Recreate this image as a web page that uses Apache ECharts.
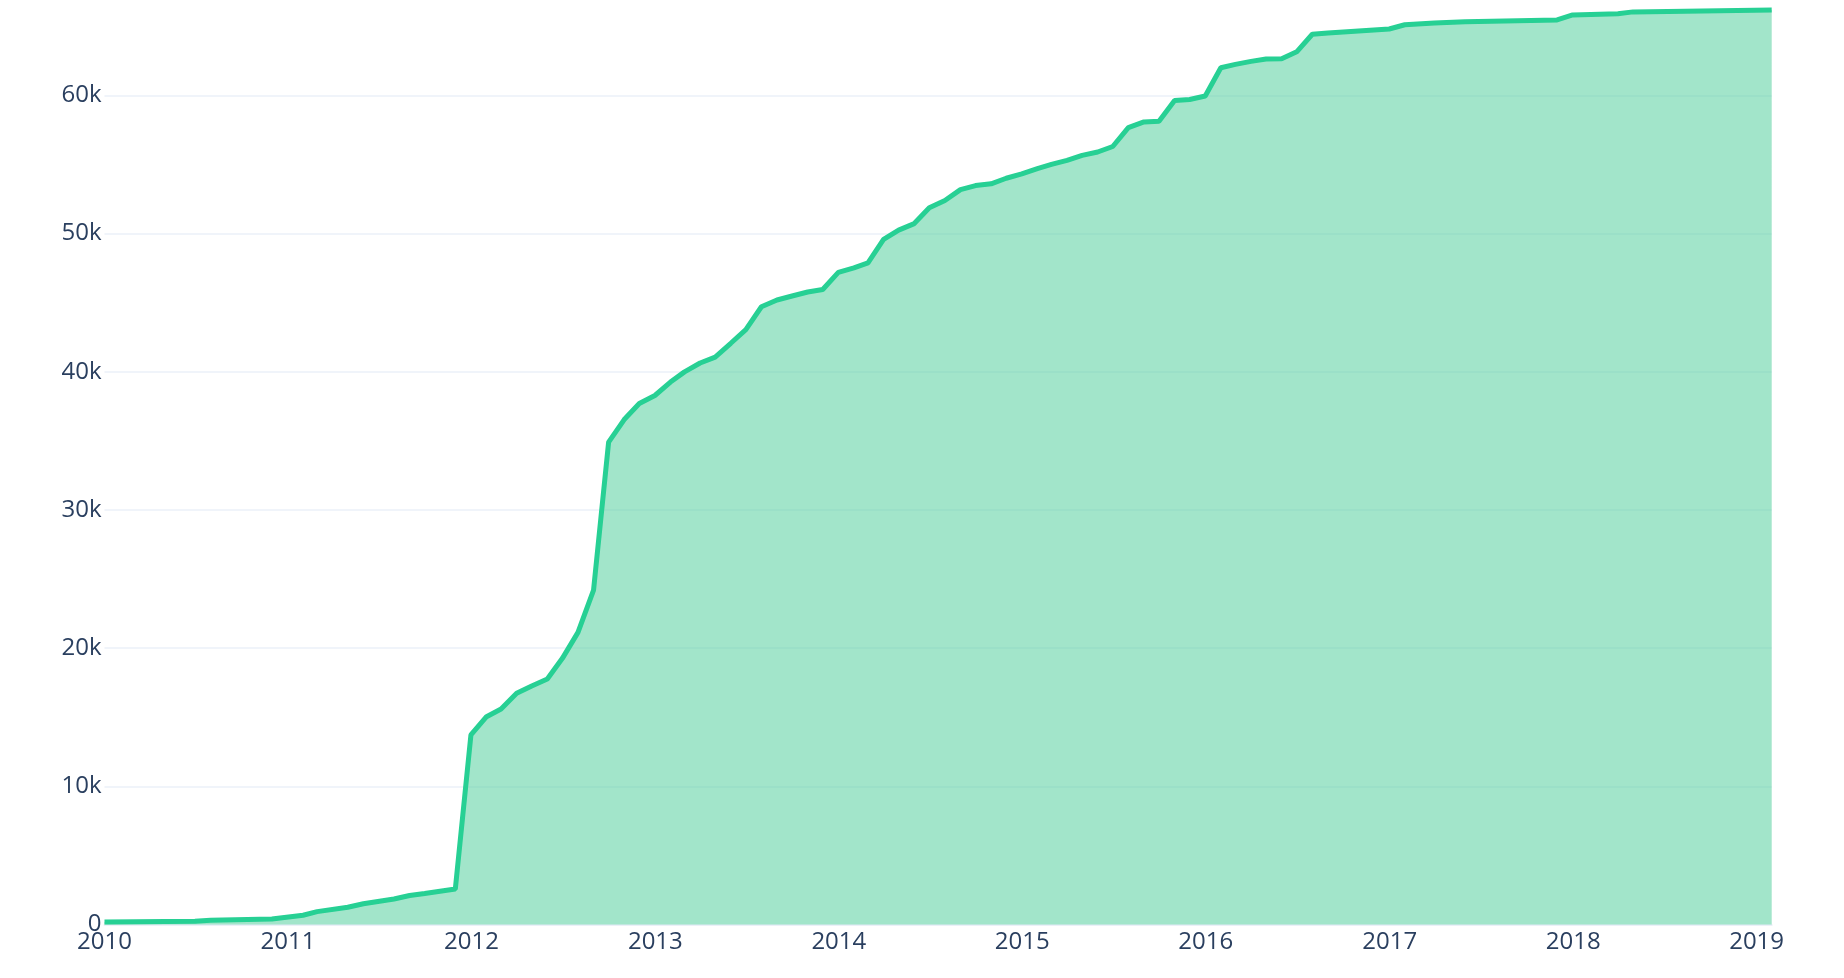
<!DOCTYPE html>
<html>
<head>
<meta charset="utf-8">
<title>Cumulative growth 2010-2019</title>
<script src="https://cdn.jsdelivr.net/npm/echarts@6/dist/echarts.min.js"></script>
<style>
  html, body { margin: 0; padding: 0; background: #fff; }
  #chart { width: 1844px; height: 978px; }
</style>
</head>
<body>
<div id="chart"></div>
<script>
// dates of each vertex of the cumulative line (month ends)
var dates = [
  '2010-01-01', '2010-06-30', '2010-07-31', '2010-11-30', '2011-01-31', '2011-02-28',
  '2011-04-30', '2011-05-31', '2011-07-31', '2011-08-31', '2011-09-30', '2011-11-30',
  '2011-12-31', '2012-01-31', '2012-02-29', '2012-03-31', '2012-04-30', '2012-05-31',
  '2012-06-30', '2012-07-31', '2012-08-31', '2012-09-30', '2012-10-31', '2012-11-30',
  '2012-12-31', '2013-01-31', '2013-02-28', '2013-03-31', '2013-04-30', '2013-05-31',
  '2013-06-30', '2013-07-31', '2013-08-31', '2013-09-30', '2013-10-31', '2013-11-30',
  '2013-12-31', '2014-01-31', '2014-02-28', '2014-03-31', '2014-04-30', '2014-05-31',
  '2014-06-30', '2014-07-31', '2014-08-31', '2014-09-30', '2014-10-31', '2014-11-30',
  '2014-12-31', '2015-01-31', '2015-02-28', '2015-03-31', '2015-04-30', '2015-05-31',
  '2015-06-30', '2015-07-31', '2015-08-31', '2015-09-30', '2015-10-31', '2015-11-30',
  '2015-12-31', '2016-01-31', '2016-02-29', '2016-03-31', '2016-04-30', '2016-05-31',
  '2016-06-30', '2016-07-31', '2016-08-31', '2016-12-31', '2017-01-31', '2017-03-31',
  '2017-05-31', '2017-11-30', '2017-12-31', '2018-03-31', '2018-04-30', '2019-01-31'
]

// running total at each date
var totals = [
  180, 230, 300, 400, 670, 930,
  1250, 1500, 1850, 2100, 2250, 2570,
  13720, 15040, 15590, 16730, 17260, 17760,
  19260, 21140, 24200, 34910, 36540, 37700,
  38280, 39250, 39990, 40630, 41060, 42060,
  43050, 44700, 45190, 45480, 45770, 45950,
  47190, 47520, 47880, 49570, 50250, 50720,
  51860, 52390, 53180, 53470, 53600, 54000,
  54320, 54700, 55000, 55300, 55660, 55900,
  56300, 57660, 58080, 58130, 59620, 59700,
  59950, 62000, 62240, 62460, 62630, 62650,
  63150, 64420, 64520, 64800, 65110, 65230,
  65330, 65460, 65820, 65910, 66040, 66170
]

// y axis ticks
var yTicks = [0, 10000, 20000, 30000, 40000, 50000, 60000]

var textColor = '#2a3f5f'
var gridColor = '#ebf0f8'
var DAY = 24 * 3600 * 1000

var chart = echarts.init(document.getElementById('chart'))

var option = {
  animation: false,
  textStyle: {
    fontFamily: '"Open Sans", sans-serif'
  },
  grid: {
    left: 104.5,
    right: 72.3,
    top: 0,
    bottom: 53.5
  },
  xAxis: {
    type: 'time',
    min: dates[0],
    max: dates[dates.length - 1],
    minInterval: 365 * DAY,
    maxInterval: 366 * DAY,
    axisLine: {
      show: true,
      lineStyle: { color: gridColor, width: 2 }
    },
    axisTick: { show: false },
    splitLine: { show: false },
    axisLabel: {
      formatter: '{yyyy}',
      color: textColor,
      fontSize: 24,
      fontWeight: 'normal',
      margin: 6,
      showMinLabel: true,
      showMaxLabel: false,
      hideOverlap: false
    }
  },
  yAxis: {
    type: 'value',
    min: yTicks[0],
    max: 66900,
    interval: yTicks[1] - yTicks[0],
    axisLine: { show: false },
    axisTick: { show: false },
    splitLine: {
      show: true,
      showMaxLine: false,
      lineStyle: { color: gridColor, width: 1.5 }
    },
    axisLabel: {
      color: textColor,
      fontSize: 24,
      margin: 3,
      showMaxLabel: false,
      formatter: function (v) {
        if (yTicks.indexOf(v) < 0) return ''
        return v === 0 ? '0' : (v / 1000) + 'k'
      }
    }
  },
  series: [{
    type: 'line',
    data: dates.map(function (d, i) { return [d, totals[i]] }),
    showSymbol: false,
    symbol: 'none',
    lineStyle: { color: '#27d094', width: 5 },
    itemStyle: { color: '#27d094' },
    areaStyle: { color: 'rgba(69, 203, 149, 0.5)', opacity: 1 },
    clip: false
  }]
}

chart.setOption(option)
</script>
</body>
</html>
